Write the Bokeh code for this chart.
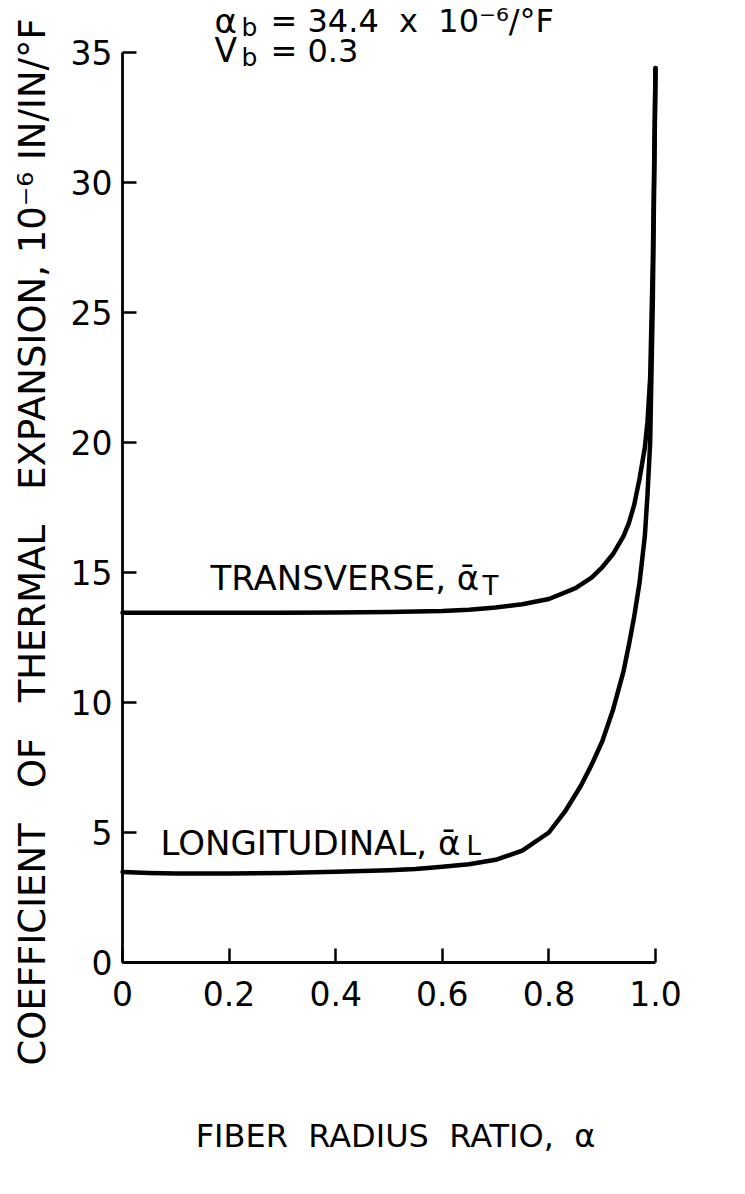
from bokeh.plotting import figure
from bokeh.models import Label, Range1d, FixedTicker, CustomJSTickFormatter
from bokeh.embed import file_html
from bokeh.resources import INLINE
import math

# Fiber radius ratio and coefficient of thermal expansion (10^-6 in/in/°F)
ratio_transverse = [0.0, 0.1, 0.2, 0.3, 0.4, 0.5, 0.6, 0.65, 0.7, 0.75, 0.8, 0.85,
                    0.88, 0.9, 0.92, 0.94, 0.95, 0.96, 0.97, 0.98, 0.985, 0.99, 0.995, 1.0]
cte_transverse = [13.45, 13.45, 13.45, 13.45, 13.46, 13.48, 13.52, 13.57, 13.65, 13.78, 13.98, 14.4,
                  14.8, 15.2, 15.7, 16.4, 16.9, 17.6, 18.6, 19.8, 20.8, 22.5, 27.0, 34.4]

ratio_longitudinal = [0.0, 0.05, 0.1, 0.2, 0.3, 0.4, 0.5, 0.55, 0.6, 0.65, 0.7, 0.75, 0.8,
                      0.83, 0.86, 0.88, 0.9, 0.92, 0.94, 0.95, 0.96, 0.97, 0.98, 0.985,
                      0.99, 0.995, 1.0]
cte_longitudinal = [3.48, 3.44, 3.42, 3.42, 3.44, 3.49, 3.55, 3.6, 3.68, 3.78, 3.95, 4.3, 5.0,
                    5.8, 6.8, 7.6, 8.5, 9.7, 11.2, 12.2, 13.3, 14.6, 16.4, 18.0,
                    20.0, 25.5, 34.4]

x_ticks = [0.0, 0.2, 0.4, 0.6, 0.8, 1.0]
x_tick_labels = ["0", "0.2", "0.4", "0.6", "0.8", "1.0"]
y_ticks = [0, 5, 10, 15, 20, 25, 30, 35]
y_tick_labels = ["0", "5", "10", "15", "20", "25", "30", "35"]

FONT = "DejaVu Sans"
SP = "\u00a0"  # non-collapsing space for the widely spaced lettering
W, H = 745, 1194
# pixel position of the data origin and scale of each axis
X0_PX, X_PX_PER_UNIT = 122, 533
Y0_PX, Y_PX_PER_UNIT = 962, 26


def to_x(px):
    return (px - X0_PX) / X_PX_PER_UNIT


def to_y(py):
    return (Y0_PX - py) / Y_PX_PER_UNIT


# The frame fills the whole canvas; the axes sit on the data origin
p = figure(width=W, height=H, output_backend="svg", toolbar_location=None,
           x_range=Range1d(to_x(0), to_x(W)), y_range=Range1d(to_y(H), to_y(0)),
           min_border=0)
p.outline_line_color = None
p.xgrid.visible = False
p.ygrid.visible = False
p.background_fill_color = "white"
p.border_fill_color = "white"

for ax, tvals, tlabels in ((p.xaxis[0], x_ticks, x_tick_labels),
                           (p.yaxis[0], y_ticks, y_tick_labels)):
    ax.fixed_location = 0
    ax.bounds = (tvals[0], tvals[-1])
    ax.ticker = FixedTicker(ticks=tvals)
    ax.formatter = CustomJSTickFormatter(
        args=dict(tick_values=tvals, tick_labels=tlabels),
        code="const i = tick_values.findIndex(t => Math.abs(t - tick) < 1e-9); "
             "return i >= 0 ? tick_labels[i] : '';")
    ax.axis_line_width = 2.8
    ax.axis_line_color = "black"
    ax.major_tick_line_width = 2.5
    ax.major_tick_line_color = "black"
    ax.major_tick_in = 14
    ax.major_tick_out = 0
    ax.minor_tick_line_color = None
    ax.major_label_text_font = FONT
    ax.major_label_text_font_size = "33px"
    ax.major_label_text_color = "black"

p.xaxis.major_label_standoff = 18
p.yaxis.major_label_standoff = 10

p.line(ratio_transverse, cte_transverse, line_color="black", line_width=4.5,
       line_join="round", line_cap="round")
p.line(ratio_longitudinal, cte_longitudinal, line_color="black", line_width=4.5,
       line_join="round", line_cap="round")


def add_label(px, py, text, size, angle=0.0, align="left", baseline="alphabetic"):
    p.add_layout(Label(x=to_x(px), y=to_y(py), text=text, text_font=FONT,
                       text_font_size=size, text_color="black", angle=angle,
                       text_align=align, text_baseline=baseline))


# Curve labels
add_label(210, 577, "TRANSVERSE," + SP + "ᾱ", "34px")
add_label(482, 585, "T", "26px")
add_label(160, 842, "LONGITUDINAL," + SP + "ᾱ", "34px")
add_label(466, 845, "L", "26px")

# Binder properties
add_label(214, 20, "α", "34px")
add_label(241, 27, "b", "25px")
add_label(270, 20, "=" + SP + "34.4" + SP * 2 + "x" + SP * 2 + "10⁻⁶/°F", "32px")
add_label(214, 50, "V", "33px")
add_label(241, 57, "b", "25px")
add_label(270, 50, "=" + SP + "0.3", "32px")

# Axis titles
add_label(395, 1135, "FIBER" + SP * 2 + "RADIUS" + SP * 2 + "RATIO," + SP * 2 + "α", "32px",
          align="center")
y_title = (SP * 3).join(["COEFFICIENT", "OF", "THERMAL", "EXPANSION,"]) + SP + "10⁻⁶" + SP + "IN/IN/°F"
add_label(32, 1065, y_title, "37px", angle=math.pi / 2, align="left")

open("out.html", "w").write(file_html(p, INLINE))
